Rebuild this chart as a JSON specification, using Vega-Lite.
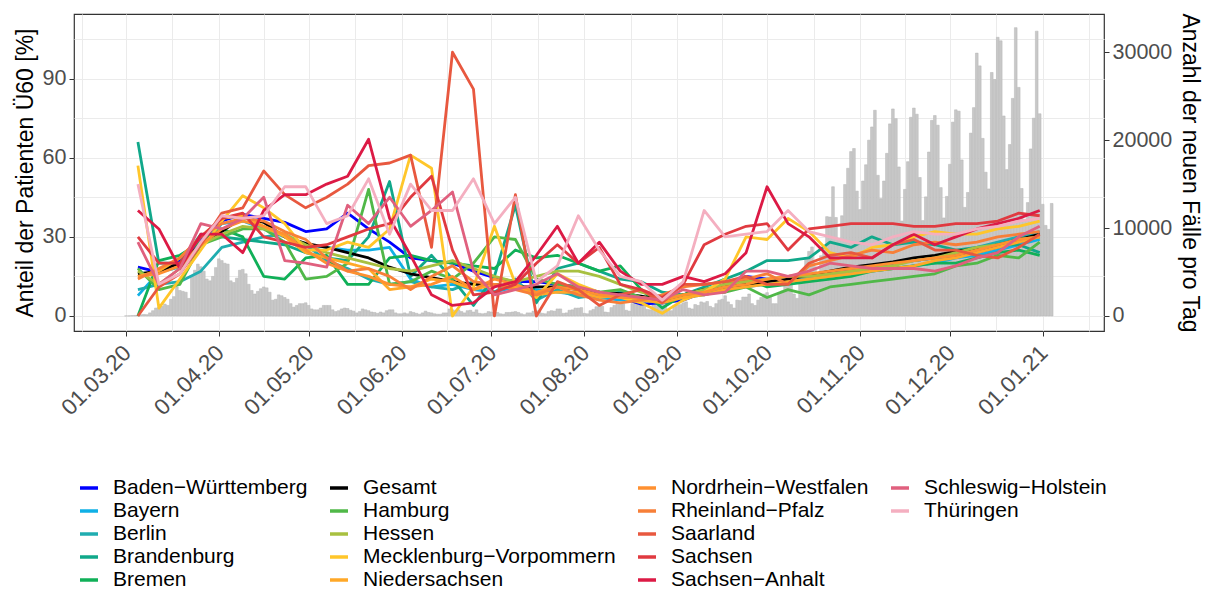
{
"$schema":"https://vega.github.io/schema/vega-lite/v6.json",
"width":1030,"height":317,
"autosize":{"type":"none"},
"padding":{"left":74,"top":14,"right":103,"bottom":260},
"background":"white",
"config":{
 "font":"Liberation Sans",
 "view":{"stroke":"#333333","strokeWidth":1.2},
 "axis":{"domain":false,"gridColor":"#EBEBEB","gridWidth":1,"tickColor":"#333333","tickSize":5,"labelColor":"#4D4D4D","labelFontSize":21.5,"titleFontSize":23,"titleFontWeight":"normal","titleColor":"#000000"},
 "legend":{"labelFontSize":21,"labelColor":"#000000","labelLimit":0}
},
"datasets":{
"cases":[
{"d":"2020-03-01","n":10},{"d":"2020-03-02","n":20},{"d":"2020-03-03","n":40},{"d":"2020-03-04","n":60},{"d":"2020-03-05","n":100},{"d":"2020-03-06","n":140},{"d":"2020-03-07","n":180},
{"d":"2020-03-08","n":150},{"d":"2020-03-09","n":350},{"d":"2020-03-10","n":600},{"d":"2020-03-11","n":900},{"d":"2020-03-12","n":1000},{"d":"2020-03-13","n":1100},{"d":"2020-03-14","n":1350},
{"d":"2020-03-15","n":1200},{"d":"2020-03-16","n":1900},{"d":"2020-03-17","n":2200},{"d":"2020-03-18","n":3300},{"d":"2020-03-19","n":2900},{"d":"2020-03-20","n":2800},{"d":"2020-03-21","n":2700},
{"d":"2020-03-22","n":2000},{"d":"2020-03-23","n":4500},{"d":"2020-03-24","n":5200},{"d":"2020-03-25","n":5900},{"d":"2020-03-26","n":5600},{"d":"2020-03-27","n":5100},{"d":"2020-03-28","n":4200},
{"d":"2020-03-29","n":4000},{"d":"2020-03-30","n":4500},{"d":"2020-03-31","n":5500},
{"d":"2020-04-01","n":6500},{"d":"2020-04-02","n":6300},{"d":"2020-04-03","n":6000},{"d":"2020-04-04","n":5900},
{"d":"2020-04-05","n":4000},{"d":"2020-04-06","n":3800},{"d":"2020-04-07","n":4300},{"d":"2020-04-08","n":5200},{"d":"2020-04-09","n":5300},{"d":"2020-04-10","n":4800},{"d":"2020-04-11","n":3600},
{"d":"2020-04-12","n":2900},{"d":"2020-04-13","n":2500},{"d":"2020-04-14","n":2800},{"d":"2020-04-15","n":3100},{"d":"2020-04-16","n":3300},{"d":"2020-04-17","n":3200},{"d":"2020-04-18","n":2700},
{"d":"2020-04-19","n":1800},{"d":"2020-04-20","n":1900},{"d":"2020-04-21","n":2400},{"d":"2020-04-22","n":2300},{"d":"2020-04-23","n":2100},{"d":"2020-04-24","n":1900},{"d":"2020-04-25","n":1400},
{"d":"2020-04-26","n":1000},{"d":"2020-04-27","n":1200},{"d":"2020-04-28","n":1400},{"d":"2020-04-29","n":1400},{"d":"2020-04-30","n":1500},
{"d":"2020-05-01","n":1200},{"d":"2020-05-02","n":800},
{"d":"2020-05-03","n":700},{"d":"2020-05-04","n":700},{"d":"2020-05-05","n":900},{"d":"2020-05-06","n":1200},{"d":"2020-05-07","n":1200},{"d":"2020-05-08","n":1200},{"d":"2020-05-09","n":700},
{"d":"2020-05-10","n":500},{"d":"2020-05-11","n":600},{"d":"2020-05-12","n":800},{"d":"2020-05-13","n":900},{"d":"2020-05-14","n":850},{"d":"2020-05-15","n":650},{"d":"2020-05-16","n":550},
{"d":"2020-05-17","n":350},{"d":"2020-05-18","n":500},{"d":"2020-05-19","n":800},{"d":"2020-05-20","n":700},{"d":"2020-05-21","n":600},{"d":"2020-05-22","n":450},{"d":"2020-05-23","n":400},
{"d":"2020-05-24","n":300},{"d":"2020-05-25","n":450},{"d":"2020-05-26","n":350},{"d":"2020-05-27","n":600},{"d":"2020-05-28","n":700},{"d":"2020-05-29","n":700},{"d":"2020-05-30","n":350},
{"d":"2020-05-31","n":250},
{"d":"2020-06-01","n":250},{"d":"2020-06-02","n":350},{"d":"2020-06-03","n":250},{"d":"2020-06-04","n":500},{"d":"2020-06-05","n":400},{"d":"2020-06-06","n":300},
{"d":"2020-06-07","n":200},{"d":"2020-06-08","n":350},{"d":"2020-06-09","n":550},{"d":"2020-06-10","n":400},{"d":"2020-06-11","n":350},{"d":"2020-06-12","n":250},{"d":"2020-06-13","n":200},
{"d":"2020-06-14","n":200},{"d":"2020-06-15","n":350},{"d":"2020-06-16","n":350},{"d":"2020-06-17","n":800},{"d":"2020-06-18","n":700},{"d":"2020-06-19","n":600},{"d":"2020-06-20","n":700},
{"d":"2020-06-21","n":500},{"d":"2020-06-22","n":350},{"d":"2020-06-23","n":600},{"d":"2020-06-24","n":650},{"d":"2020-06-25","n":450},{"d":"2020-06-26","n":700},{"d":"2020-06-27","n":300},
{"d":"2020-06-28","n":250},{"d":"2020-06-29","n":300},{"d":"2020-06-30","n":500},
{"d":"2020-07-01","n":450},{"d":"2020-07-02","n":450},{"d":"2020-07-03","n":400},{"d":"2020-07-04","n":250},
{"d":"2020-07-05","n":200},{"d":"2020-07-06","n":400},{"d":"2020-07-07","n":400},{"d":"2020-07-08","n":450},{"d":"2020-07-09","n":500},{"d":"2020-07-10","n":400},{"d":"2020-07-11","n":250},
{"d":"2020-07-12","n":150},{"d":"2020-07-13","n":350},{"d":"2020-07-14","n":350},{"d":"2020-07-15","n":550},{"d":"2020-07-16","n":600},{"d":"2020-07-17","n":500},{"d":"2020-07-18","n":300},
{"d":"2020-07-19","n":250},{"d":"2020-07-20","n":500},{"d":"2020-07-21","n":600},{"d":"2020-07-22","n":550},{"d":"2020-07-23","n":800},{"d":"2020-07-24","n":800},{"d":"2020-07-25","n":300},
{"d":"2020-07-26","n":350},{"d":"2020-07-27","n":650},{"d":"2020-07-28","n":700},{"d":"2020-07-29","n":900},{"d":"2020-07-30","n":900},{"d":"2020-07-31","n":950},
{"d":"2020-08-01","n":300},{"d":"2020-08-02","n":250},{"d":"2020-08-03","n":600},{"d":"2020-08-04","n":750},{"d":"2020-08-05","n":1050},{"d":"2020-08-06","n":1150},{"d":"2020-08-07","n":1100},
{"d":"2020-08-08","n":450},{"d":"2020-08-09","n":400},{"d":"2020-08-10","n":950},{"d":"2020-08-11","n":1200},{"d":"2020-08-12","n":1450},{"d":"2020-08-13","n":1450},{"d":"2020-08-14","n":1400},
{"d":"2020-08-15","n":650},{"d":"2020-08-16","n":550},{"d":"2020-08-17","n":1400},{"d":"2020-08-18","n":1500},{"d":"2020-08-19","n":1700},{"d":"2020-08-20","n":2000},{"d":"2020-08-21","n":1700},
{"d":"2020-08-22","n":750},{"d":"2020-08-23","n":700},{"d":"2020-08-24","n":1300},{"d":"2020-08-25","n":1550},{"d":"2020-08-26","n":1500},{"d":"2020-08-27","n":1550},{"d":"2020-08-28","n":1450},
{"d":"2020-08-29","n":750},{"d":"2020-08-30","n":600},{"d":"2020-08-31","n":1200},
{"d":"2020-09-01","n":1250},{"d":"2020-09-02","n":1300},{"d":"2020-09-03","n":1500},{"d":"2020-09-04","n":1600},{"d":"2020-09-05","n":900},
{"d":"2020-09-06","n":800},{"d":"2020-09-07","n":1300},{"d":"2020-09-08","n":1200},{"d":"2020-09-09","n":1600},{"d":"2020-09-10","n":1500},{"d":"2020-09-11","n":1650},{"d":"2020-09-12","n":1100},
{"d":"2020-09-13","n":950},{"d":"2020-09-14","n":1400},{"d":"2020-09-15","n":1800},{"d":"2020-09-16","n":1900},{"d":"2020-09-17","n":2300},{"d":"2020-09-18","n":1600},{"d":"2020-09-19","n":1300},
{"d":"2020-09-20","n":900},{"d":"2020-09-21","n":1800},{"d":"2020-09-22","n":1750},{"d":"2020-09-23","n":2150},{"d":"2020-09-24","n":2150},{"d":"2020-09-25","n":2500},{"d":"2020-09-26","n":1400},
{"d":"2020-09-27","n":1200},{"d":"2020-09-28","n":1800},{"d":"2020-09-29","n":2100},{"d":"2020-09-30","n":2500},
{"d":"2020-10-01","n":2650},{"d":"2020-10-02","n":2300},{"d":"2020-10-03","n":1400},
{"d":"2020-10-04","n":1400},{"d":"2020-10-05","n":2650},{"d":"2020-10-06","n":2850},{"d":"2020-10-07","n":4050},{"d":"2020-10-08","n":4500},{"d":"2020-10-09","n":4700},{"d":"2020-10-10","n":2500},
{"d":"2020-10-11","n":2000},{"d":"2020-10-12","n":4100},{"d":"2020-10-13","n":5150},{"d":"2020-10-14","n":6650},{"d":"2020-10-15","n":7350},{"d":"2020-10-16","n":7850},{"d":"2020-10-17","n":5600},
{"d":"2020-10-18","n":4300},{"d":"2020-10-19","n":6850},{"d":"2020-10-20","n":7600},{"d":"2020-10-21","n":11300},{"d":"2020-10-22","n":11250},{"d":"2020-10-23","n":14700},{"d":"2020-10-24","n":11200},
{"d":"2020-10-25","n":8700},{"d":"2020-10-26","n":11400},{"d":"2020-10-27","n":14950},{"d":"2020-10-28","n":16800},{"d":"2020-10-29","n":18700},{"d":"2020-10-30","n":19050},{"d":"2020-10-31","n":14200},
{"d":"2020-11-01","n":12100},{"d":"2020-11-02","n":15350},{"d":"2020-11-03","n":17200},{"d":"2020-11-04","n":20000},{"d":"2020-11-05","n":21500},{"d":"2020-11-06","n":23400},{"d":"2020-11-07","n":16000},
{"d":"2020-11-08","n":13350},{"d":"2020-11-09","n":15350},{"d":"2020-11-10","n":18500},{"d":"2020-11-11","n":21850},{"d":"2020-11-12","n":23550},{"d":"2020-11-13","n":22450},{"d":"2020-11-14","n":16950},
{"d":"2020-11-15","n":10800},{"d":"2020-11-16","n":14400},{"d":"2020-11-17","n":17550},{"d":"2020-11-18","n":22600},{"d":"2020-11-19","n":23650},{"d":"2020-11-20","n":22950},{"d":"2020-11-21","n":15750},
{"d":"2020-11-22","n":10850},{"d":"2020-11-23","n":13550},{"d":"2020-11-24","n":18650},{"d":"2020-11-25","n":22250},{"d":"2020-11-26","n":22800},{"d":"2020-11-27","n":21700},{"d":"2020-11-28","n":14600},
{"d":"2020-11-29","n":11150},{"d":"2020-11-30","n":13600},
{"d":"2020-12-01","n":17250},{"d":"2020-12-02","n":22050},{"d":"2020-12-03","n":23450},{"d":"2020-12-04","n":23300},{"d":"2020-12-05","n":17750},
{"d":"2020-12-06","n":12350},{"d":"2020-12-07","n":14050},{"d":"2020-12-08","n":20800},{"d":"2020-12-09","n":23700},{"d":"2020-12-10","n":29900},{"d":"2020-12-11","n":28450},{"d":"2020-12-12","n":20200},
{"d":"2020-12-13","n":16350},{"d":"2020-12-14","n":14450},{"d":"2020-12-15","n":27700},{"d":"2020-12-16","n":26900},{"d":"2020-12-17","n":31700},{"d":"2020-12-18","n":31300},{"d":"2020-12-19","n":22750},
{"d":"2020-12-20","n":16650},{"d":"2020-12-21","n":19500},{"d":"2020-12-22","n":24750},{"d":"2020-12-23","n":32800},{"d":"2020-12-24","n":26000},{"d":"2020-12-25","n":14500},{"d":"2020-12-26","n":11000},
{"d":"2020-12-27","n":12900},{"d":"2020-12-28","n":19000},{"d":"2020-12-29","n":22500},{"d":"2020-12-30","n":32400},{"d":"2020-12-31","n":23000},
{"d":"2021-01-01","n":12700},{"d":"2021-01-02","n":10300},{"d":"2021-01-03","n":9850},{"d":"2021-01-04","n":12800}
],
"weekly":[
{"d":"2020-03-05","BW":18.5,"BY":7.7,"BE":10,"BB":66,"HB":0,"GES":16,"HH":18,"HE":17,"MV":57,"NI":15,"NW":15,"RP":14,"SL":0,"SN":30,"ST":40,"SH":28,"TH":50},
{"d":"2020-03-12","BW":16.6,"BY":16.6,"BE":12,"BB":20,"HB":21,"GES":17,"HH":10,"HE":12,"MV":3,"NI":17,"NW":16,"RP":18,"SL":11,"SN":20,"ST":33,"SH":12,"TH":12},
{"d":"2020-03-19","BW":21,"BY":18.5,"BE":13,"BB":20,"HB":23,"GES":20,"HH":12,"HE":18,"MV":14,"NI":22,"NW":19,"RP":22,"SL":16,"SN":20,"ST":18,"SH":18,"TH":16},
{"d":"2020-03-26","BW":28.6,"BY":27,"BE":17,"BB":31,"HB":28,"GES":27,"HH":27,"HE":27,"MV":25,"NI":30,"NW":27,"RP":30,"SL":27,"SN":30,"ST":31,"SH":35,"TH":28},
{"d":"2020-04-02","BW":36,"BY":35,"BE":26,"BB":30,"HB":33,"GES":32,"HH":30,"HE":31,"MV":36,"NI":37,"NW":33,"RP":35,"SL":39,"SN":37,"ST":31,"SH":33,"TH":38},
{"d":"2020-04-09","BW":38.5,"BY":36,"BE":28,"BB":29,"HB":30,"GES":37.5,"HH":33,"HE":34,"MV":45.6,"NI":38,"NW":36,"RP":37,"SL":41,"SN":39,"ST":24,"SH":37,"TH":37},
{"d":"2020-04-16","BW":37,"BY":33,"BE":30,"BB":28,"HB":15,"GES":35.5,"HH":33,"HE":33,"MV":41,"NI":34,"NW":34,"RP":36,"SL":55,"SN":30,"ST":40,"SH":45,"TH":38},
{"d":"2020-04-23","BW":35.5,"BY":30,"BE":31,"BB":27,"HB":14,"GES":30,"HH":28,"HE":31,"MV":35,"NI":30,"NW":31,"RP":32,"SL":46,"SN":28,"ST":46,"SH":21,"TH":49},
{"d":"2020-04-30","BW":32,"BY":27,"BE":27,"BB":24,"HB":22,"GES":27.5,"HH":14,"HE":27,"MV":25,"NI":24,"NW":25,"RP":29,"SL":41,"SN":26,"ST":46,"SH":20,"TH":49},
{"d":"2020-05-07","BW":33,"BY":26,"BE":21,"BB":22,"HB":23,"GES":26,"HH":15,"HE":24,"MV":25,"NI":22,"NW":20,"RP":22,"SL":45,"SN":27,"ST":50,"SH":18.5,"TH":35},
{"d":"2020-05-14","BW":39,"BY":25,"BE":18,"BB":21,"HB":12,"GES":24,"HH":20,"HE":22,"MV":28,"NI":20,"NW":17,"RP":17,"SL":50,"SN":30,"ST":53,"SH":42,"TH":38},
{"d":"2020-05-21","BW":33,"BY":25,"BE":14,"BB":30,"HB":12,"GES":22,"HH":48,"HE":20,"MV":26,"NI":18,"NW":15,"RP":18,"SL":57,"SN":33,"ST":67,"SH":35,"TH":52},
{"d":"2020-05-28","BW":28,"BY":26,"BE":12,"BB":51,"HB":22,"GES":18.5,"HH":12,"HE":18,"MV":33,"NI":10,"NW":12,"RP":15,"SL":58,"SN":35,"ST":37,"SH":45,"TH":31},
{"d":"2020-06-04","BW":22,"BY":14,"BE":13,"BB":15,"HB":23,"GES":16,"HH":13,"HE":17,"MV":61,"NI":11,"NW":11,"RP":10,"SL":61,"SN":45,"ST":23,"SH":34,"TH":50},
{"d":"2020-06-11","BW":21,"BY":11,"BE":11,"BB":23,"HB":21,"GES":14.5,"HH":17,"HE":19,"MV":56,"NI":14,"NW":12,"RP":15,"SL":26,"SN":53,"ST":8,"SH":40,"TH":40},
{"d":"2020-06-18","BW":20,"BY":12,"BE":10,"BB":14,"HB":20,"GES":13,"HH":14,"HE":21,"MV":0,"NI":13,"NW":15,"RP":19,"SL":100,"SN":25,"ST":4,"SH":47,"TH":40},
{"d":"2020-06-25","BW":17,"BY":10,"BE":13,"BB":4,"HB":19,"GES":12,"HH":20,"HE":18,"MV":11,"NI":10,"NW":10,"RP":13,"SL":86,"SN":8,"ST":5,"SH":17,"TH":52},
{"d":"2020-07-02","BW":14.5,"BY":9,"BE":9,"BB":15,"HB":18,"GES":12,"HH":30,"HE":15,"MV":34,"NI":12,"NW":14,"RP":12,"SL":0,"SN":9,"ST":11,"SH":8,"TH":35},
{"d":"2020-07-09","BW":13,"BY":11,"BE":14,"BB":42,"HB":25,"GES":11,"HH":29,"HE":13,"MV":12,"NI":11,"NW":12,"RP":10,"SL":46,"SN":12,"ST":13,"SH":10,"TH":45},
{"d":"2020-07-16","BW":13,"BY":10,"BE":6,"BB":5,"HB":22,"GES":11,"HH":14,"HE":15,"MV":7,"NI":8,"NW":9,"RP":8,"SL":0,"SN":20,"ST":23,"SH":12,"TH":13},
{"d":"2020-07-23","BW":12,"BY":9,"BE":10,"BB":18,"HB":23,"GES":11,"HH":12,"HE":17,"MV":16,"NI":9,"NW":11,"RP":11,"SL":13,"SN":27,"ST":34,"SH":16,"TH":19},
{"d":"2020-07-30","BW":11,"BY":8,"BE":7,"BB":20,"HB":20,"GES":10,"HH":11,"HE":17,"MV":12,"NI":9,"NW":10,"RP":8,"SL":10,"SN":20,"ST":20,"SH":11,"TH":38},
{"d":"2020-08-06","BW":9,"BY":7,"BE":8,"BB":17,"HB":17,"GES":9,"HH":9,"HE":15,"MV":9,"NI":7,"NW":8,"RP":6,"SL":4,"SN":26,"ST":28,"SH":9,"TH":25},
{"d":"2020-08-13","BW":7,"BY":6,"BE":9,"BB":14,"HB":19,"GES":8.5,"HH":10,"HE":12,"MV":7,"NI":8,"NW":7,"RP":5,"SL":8,"SN":12,"ST":17,"SH":8,"TH":15},
{"d":"2020-08-20","BW":4.5,"BY":6,"BE":7,"BB":13,"HB":10,"GES":7.5,"HH":7,"HE":9,"MV":5,"NI":6,"NW":7,"RP":6,"SL":10,"SN":10,"ST":12,"SH":7,"TH":13},
{"d":"2020-08-27","BW":5,"BY":5,"BE":6,"BB":9,"HB":3,"GES":6,"HH":6,"HE":7,"MV":1,"NI":5,"NW":6,"RP":8,"SL":5,"SN":7,"ST":12,"SH":6,"TH":6},
{"d":"2020-09-03","BW":6,"BY":7,"BE":7,"BB":8,"HB":8,"GES":8,"HH":8,"HE":8,"MV":6,"NI":7,"NW":8,"RP":11,"SL":12,"SN":12,"ST":15,"SH":10,"TH":13},
{"d":"2020-09-10","BW":9,"BY":9,"BE":8,"BB":11,"HB":10,"GES":10,"HH":9,"HE":10,"MV":9,"NI":8,"NW":9,"RP":12,"SL":12,"SN":27,"ST":13,"SH":8,"TH":40},
{"d":"2020-09-17","BW":12,"BY":10,"BE":10,"BB":14,"HB":12,"GES":11,"HH":9,"HE":12,"MV":14,"NI":10,"NW":11,"RP":13,"SL":13,"SN":31,"ST":16,"SH":9,"TH":30},
{"d":"2020-09-24","BW":15,"BY":11,"BE":12,"BB":17,"HB":14,"GES":12,"HH":11,"HE":13,"MV":30,"NI":11,"NW":12,"RP":14,"SL":15,"SN":34,"ST":24,"SH":17,"TH":31},
{"d":"2020-10-01","BW":14,"BY":12,"BE":13,"BB":21,"HB":11,"GES":13,"HH":7,"HE":14,"MV":29,"NI":12,"NW":14,"RP":16,"SL":12,"SN":35,"ST":49,"SH":17,"TH":32},
{"d":"2020-10-08","BW":14,"BY":13,"BE":14,"BB":21,"HB":12,"GES":14,"HH":10,"HE":15,"MV":37,"NI":13,"NW":15,"RP":12,"SL":12,"SN":25,"ST":35,"SH":15,"TH":40},
{"d":"2020-10-15","BW":15,"BY":14,"BE":15,"BB":22,"HB":13,"GES":15.5,"HH":8,"HE":15,"MV":32,"NI":14,"NW":16,"RP":19,"SL":20,"SN":33,"ST":30,"SH":17,"TH":32},
{"d":"2020-10-22","BW":16,"BY":15,"BE":16,"BB":28,"HB":14,"GES":17,"HH":11,"HE":16,"MV":24,"NI":15,"NW":17,"RP":21,"SL":23,"SN":34,"ST":22,"SH":20,"TH":30},
{"d":"2020-10-29","BW":18,"BY":16,"BE":17,"BB":26,"HB":15,"GES":18.5,"HH":12,"HE":17,"MV":22,"NI":16,"NW":18,"RP":23,"SL":24,"SN":35,"ST":22,"SH":19,"TH":28},
{"d":"2020-11-05","BW":19,"BY":17,"BE":18,"BB":30,"HB":17,"GES":19.5,"HH":13,"HE":18,"MV":26,"NI":17,"NW":19,"RP":25,"SL":22,"SN":35,"ST":22,"SH":18,"TH":27},
{"d":"2020-11-12","BW":20,"BY":18,"BE":20,"BB":27,"HB":18,"GES":20.5,"HH":14,"HE":19,"MV":27,"NI":18,"NW":20,"RP":24,"SL":27,"SN":35,"ST":27,"SH":18,"TH":30},
{"d":"2020-11-19","BW":21,"BY":19,"BE":21,"BB":28,"HB":19,"GES":22,"HH":15,"HE":21,"MV":30,"NI":19,"NW":21,"RP":27,"SL":29,"SN":34,"ST":31,"SH":18,"TH":32},
{"d":"2020-11-26","BW":22,"BY":20,"BE":22,"BB":27,"HB":20,"GES":23,"HH":16,"HE":22,"MV":32,"NI":21,"NW":22,"RP":28,"SL":25,"SN":34,"ST":27,"SH":17,"TH":31},
{"d":"2020-12-03","BW":23,"BY":22,"BE":23,"BB":25,"HB":20,"GES":24.5,"HH":19,"HE":24,"MV":31,"NI":22,"NW":23,"RP":27,"SL":25,"SN":35,"ST":30,"SH":19,"TH":31},
{"d":"2020-12-10","BW":24,"BY":23,"BE":26,"BB":26,"HB":22,"GES":25.5,"HH":20,"HE":26,"MV":31,"NI":24,"NW":25,"RP":28,"SL":23,"SN":35,"ST":33,"SH":22,"TH":33},
{"d":"2020-12-17","BW":26,"BY":25,"BE":28,"BB":27,"HB":24,"GES":27,"HH":23,"HE":27,"MV":33,"NI":26,"NW":27,"RP":30,"SL":22,"SN":36,"ST":35,"SH":24,"TH":34},
{"d":"2020-12-24","BW":28,"BY":27,"BE":30,"BB":27,"HB":25,"GES":29,"HH":22,"HE":29,"MV":34,"NI":28,"NW":29,"RP":31,"SL":26,"SN":39,"ST":37,"SH":30,"TH":36},
{"d":"2020-12-31","BW":30,"BY":29,"BE":32,"BB":24,"HB":23,"GES":31,"HH":28,"HE":30,"MV":36,"NI":30,"NW":30,"RP":32,"SL":31,"SN":38,"ST":40,"SH":34,"TH":37}
]},
"layer":[
{"data":{"name":"cases"},
 "mark":{"type":"bar","width":2.7,"fill":"#C8C8C8","stroke":"#B4B4B4","strokeWidth":0.5},
 "encoding":{
  "x":{"field":"d","type":"temporal","scale":{"type":"utc","domain":[{"year":2020,"month":2,"date":14,"hours":8,"utc":true},{"year":2021,"month":1,"date":19,"hours":19,"utc":true}]},
   "axis":{"title":null,"grid":true,"labelAngle":-45,"labelAlign":"right","labelBaseline":"middle","labelPadding":13,"labelOffset":1,"labelFontSize":22.5,"labelOverlap":false,"labelFlush":false,"labelBound":false,
    "values":[{"year":2020,"month":2,"date":15,"hours":12,"utc":true},{"year":2020,"month":3,"date":1,"utc":true},{"year":2020,"month":3,"date":16,"hours":12,"utc":true},{"year":2020,"month":4,"date":1,"utc":true},{"year":2020,"month":4,"date":16,"utc":true},{"year":2020,"month":5,"date":1,"utc":true},{"year":2020,"month":5,"date":16,"hours":12,"utc":true},{"year":2020,"month":6,"date":1,"utc":true},{"year":2020,"month":6,"date":16,"utc":true},{"year":2020,"month":7,"date":1,"utc":true},{"year":2020,"month":7,"date":16,"hours":12,"utc":true},{"year":2020,"month":8,"date":1,"utc":true},{"year":2020,"month":8,"date":16,"hours":12,"utc":true},{"year":2020,"month":9,"date":1,"utc":true},{"year":2020,"month":9,"date":16,"utc":true},{"year":2020,"month":10,"date":1,"utc":true},{"year":2020,"month":10,"date":16,"hours":12,"utc":true},{"year":2020,"month":11,"date":1,"utc":true},{"year":2020,"month":11,"date":16,"utc":true},{"year":2020,"month":12,"date":1,"utc":true},{"year":2020,"month":12,"date":16,"hours":12,"utc":true},{"year":2021,"month":1,"date":1,"utc":true},{"year":2021,"month":1,"date":16,"hours":12,"utc":true}],
    "labelExpr":"utcdate(datum.value) == 1 ? utcFormat(datum.value, '%d.%m.%y') : ''",
    "tickOpacity":{"condition":{"test":"utcdate(datum.value) == 1","value":1},"value":0}}},
  "y":{"field":"n","type":"quantitative","scale":{"domain":[-1710,34350],"nice":false,"zero":false},
   "axis":{"orient":"right","title":"Anzahl der neuen Fälle pro Tag","values":[0,10000,20000,30000],"format":"d","grid":false,"labelPadding":3,"titlePadding":6}}
 }},
{"data":{"name":"weekly"},
 "transform":[{"fold":["BW","BY","BE","BB","HB","GES","HH","HE","MV","NI","NW","RP","SL","SN","ST","SH","TH"],"as":["s","v"]}],
 "mark":{"type":"line","strokeWidth":2.8,"strokeJoin":"round"},
 "encoding":{
  "x":{"field":"d","type":"temporal","scale":{"type":"utc","domain":[{"year":2020,"month":2,"date":14,"hours":8,"utc":true},{"year":2021,"month":1,"date":19,"hours":19,"utc":true}]}},
  "y":{"field":"v","type":"quantitative","scale":{"domain":[-5.7,114.5],"nice":false,"zero":false},
   "axis":{"orient":"left","title":"Anteil der Patienten Ü60 [%]","values":[0,15,30,45,60,75,90,105],"grid":true,"labelPadding":3,"titlePadding":5,
    "labelExpr":"datum.value % 30 == 0 ? datum.label : ''",
    "tickOpacity":{"condition":{"test":"datum.value % 30 == 0","value":1},"value":0}}},
  "color":{"field":"s","type":"nominal",
   "scale":{"domain":["BW","BY","BE","BB","HB","GES","HH","HE","MV","NI","NW","RP","SL","SN","ST","SH","TH","x1","x2","x3"],
    "range":["#0000FF","#10B0E6","#20ADB0","#10A88A","#10B058","#000000","#50B848","#A8C040","#FFC62A","#FFA828","#FF9030","#F77F38","#E8583F","#E03A40","#DC1A45","#E0607E","#F4AFC0","rgba(0,0,0,0)","rgba(0,0,0,0)","rgba(0,0,0,0)"]},
   "legend":{"orient":"none","legendX":4,"legendY":463,"columns":4,"title":null,"symbolType":"stroke","symbolSize":324,"symbolStrokeWidth":3.5,"labelOffset":13,"columnPadding":15,"rowPadding":2,"padding":0,
    "labelExpr":"['Baden−Württemberg','Bayern','Berlin','Brandenburg','Bremen','Gesamt','Hamburg','Hessen','Mecklenburg−Vorpommern','Niedersachsen','Nordrhein−Westfalen','Rheinland−Pfalz','Saarland','Sachsen','Sachsen−Anhalt','Schleswig−Holstein','Thüringen','','',''][indexof(['BW','BY','BE','BB','HB','GES','HH','HE','MV','NI','NW','RP','SL','SN','ST','SH','TH','x1','x2','x3'], datum.label)]"}}
 }}
],
"resolve":{"scale":{"y":"independent"}}
}
